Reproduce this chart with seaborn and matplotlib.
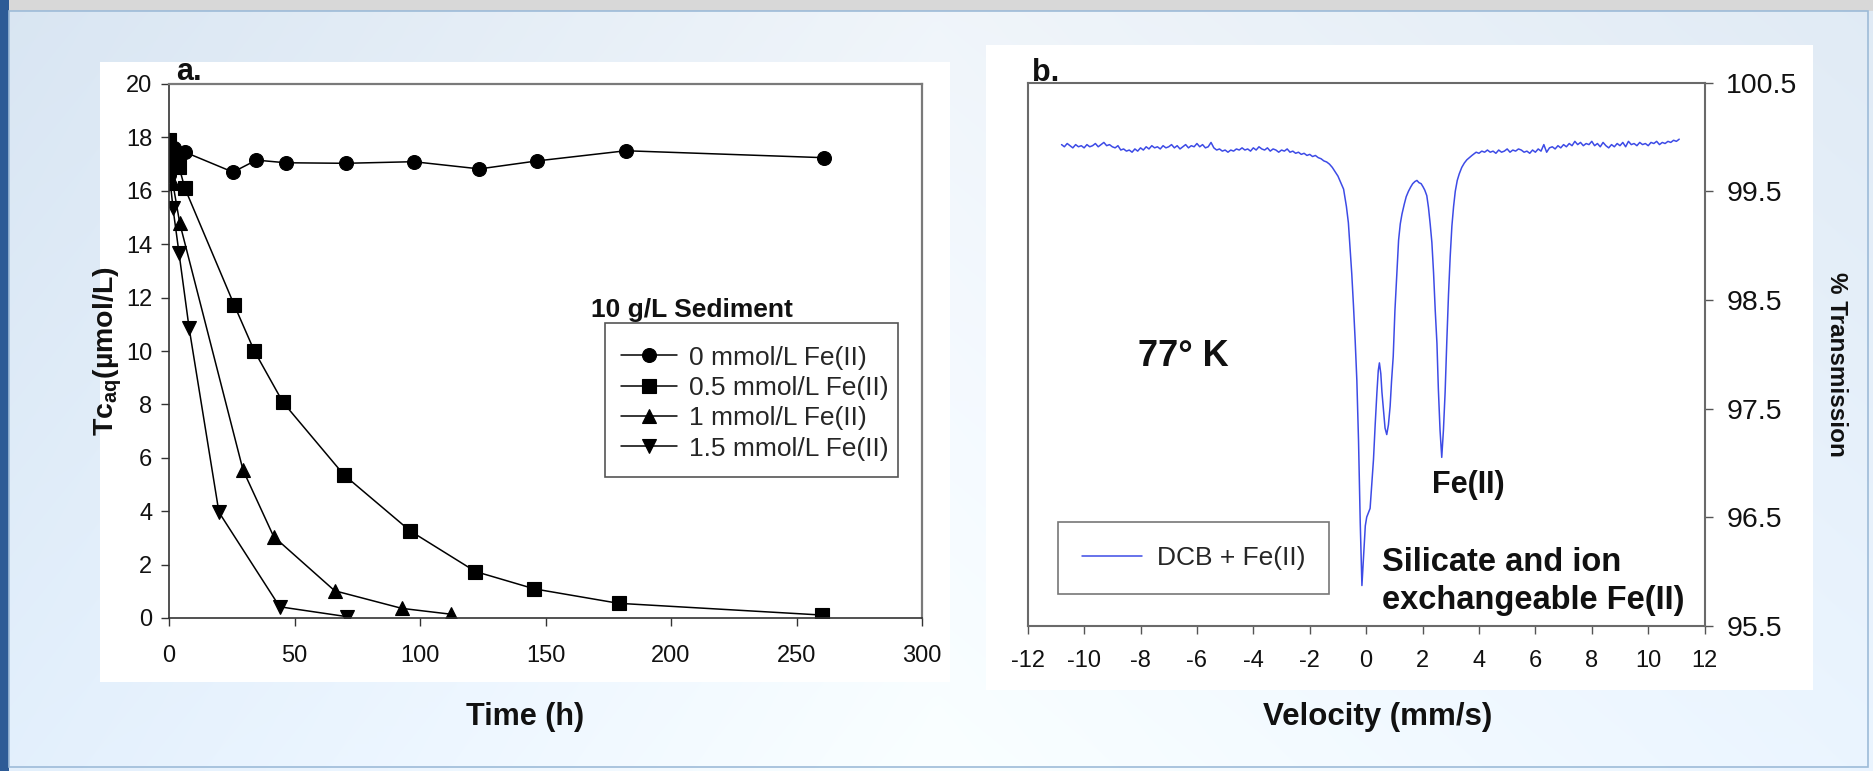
import numpy as np
import pandas as pd
import matplotlib
matplotlib.use("Agg")
import matplotlib.pyplot as plt
from matplotlib.patches import Rectangle
import seaborn as sns

# ---------------- data: panel a ----------------
series_labels = ["0 mmol/L Fe(II)", "0.5 mmol/L Fe(II)", "1 mmol/L Fe(II)", "1.5 mmol/L Fe(II)"]
time_0 = [0, 2, 4, 6.3, 25.5, 34.8, 46.5, 70.4, 97.5, 123.7, 146.7, 182, 261]
tc_0 = [16.6, 17.6, 17.2, 17.45, 16.7, 17.15, 17.05, 17.03, 17.09, 16.82, 17.12, 17.5, 17.24]
time_05 = [0, 2, 4, 6.3, 26, 34, 45.4, 69.7, 96.1, 122.1, 145.6, 179.1, 260.2]
tc_05 = [17.9, 17.3, 16.9, 16.1, 11.72, 10.0, 8.08, 5.36, 3.26, 1.74, 1.09, 0.55, 0.11]
time_1 = [0, 1.5, 4.3, 29.5, 41.7, 66, 92.8, 112.5]
tc_1 = [17.0, 16.3, 14.78, 5.54, 3.05, 1.02, 0.36, 0.14]
time_15 = [0, 1.6, 4.0, 8.0, 19.9, 44.1, 70.9]
tc_15 = [16.8, 15.34, 13.66, 10.87, 3.96, 0.42, 0.05]
time_ticks = [0, 50, 100, 150, 200, 250, 300]
tc_ticks = [0, 2, 4, 6, 8, 10, 12, 14, 16, 18, 20]

# ---------------- data: panel b (Mossbauer spectrum) ----------------
velocity = [
    -10.8, -10.7, -10.6, -10.5, -10.4, -10.3, -10.2, -10.1, -10.0, -9.9,
    -9.8, -9.7, -9.6, -9.5, -9.4, -9.3, -9.2, -9.1, -9.0, -8.9,
    -8.8, -8.7, -8.6, -8.5, -8.4, -8.3, -8.2, -8.1, -8.0, -7.9,
    -7.8, -7.7, -7.6, -7.5, -7.4, -7.3, -7.2, -7.1, -7.0, -6.9,
    -6.8, -6.7, -6.6, -6.5, -6.4, -6.3, -6.2, -6.1, -6.0, -5.9,
    -5.8, -5.7, -5.6, -5.5, -5.4, -5.3, -5.2, -5.1, -5.0, -4.9,
    -4.8, -4.7, -4.6, -4.5, -4.4, -4.3, -4.2, -4.1, -4.0, -3.9,
    -3.8, -3.7, -3.6, -3.5, -3.4, -3.3, -3.2, -3.1, -3.0, -2.9,
    -2.8, -2.7, -2.6, -2.5, -2.4, -2.3, -2.2, -2.1, -2.0, -1.9,
    -1.8, -1.7, -1.6, -1.5, -1.4, -1.3, -1.2, -1.1, -1.0, -0.9,
    -0.8, -0.7, -0.63, -0.57, -0.51, -0.45, -0.39, -0.33, -0.27, -0.21,
    -0.15, -0.09, -0.03, 0.02, 0.08, 0.14, 0.20, 0.26, 0.32, 0.38,
    0.43, 0.47, 0.52, 0.56, 0.61, 0.67, 0.73, 0.79, 0.85, 0.90,
    0.96, 1.02, 1.09, 1.15, 1.21, 1.27, 1.35, 1.42, 1.50, 1.58,
    1.65, 1.73, 1.80, 1.87, 1.95, 2.02, 2.08, 2.15, 2.21, 2.27,
    2.33, 2.39, 2.45, 2.51, 2.56, 2.62, 2.68, 2.74, 2.80, 2.86,
    2.92, 2.98, 3.04, 3.10, 3.16, 3.23, 3.30, 3.39, 3.48, 3.57,
    3.66, 3.75, 3.85, 3.9, 4.0, 4.1, 4.2, 4.3, 4.4, 4.5,
    4.6, 4.7, 4.8, 4.9, 5.0, 5.1, 5.2, 5.3, 5.4, 5.5,
    5.6, 5.7, 5.8, 5.9, 6.0, 6.1, 6.2, 6.3, 6.4, 6.5,
    6.6, 6.7, 6.8, 6.9, 7.0, 7.1, 7.2, 7.3, 7.4, 7.5,
    7.6, 7.7, 7.8, 7.9, 8.0, 8.1, 8.2, 8.3, 8.4, 8.5,
    8.6, 8.7, 8.8, 8.9, 9.0, 9.1, 9.2, 9.3, 9.4, 9.5,
    9.6, 9.7, 9.8, 9.9, 10.0, 10.1, 10.2, 10.3, 10.4, 10.5,
    10.6, 10.7, 10.8, 10.9, 11.0, 11.1,
]
transmission = [
    99.93, 99.91, 99.94, 99.92, 99.90, 99.93, 99.91, 99.92, 99.90, 99.93,
    99.91, 99.92, 99.94, 99.91, 99.93, 99.95, 99.92, 99.93, 99.91, 99.90,
    99.92, 99.88, 99.89, 99.87, 99.88, 99.86, 99.89, 99.87, 99.90, 99.88,
    99.91, 99.89, 99.92, 99.90, 99.91, 99.89, 99.92, 99.90, 99.91, 99.93,
    99.90, 99.92, 99.89, 99.91, 99.93, 99.90, 99.92, 99.91, 99.94, 99.91,
    99.93, 99.90, 99.91, 99.95, 99.90, 99.88, 99.89, 99.87, 99.88, 99.86,
    99.88, 99.87, 99.89, 99.88, 99.90, 99.88, 99.89, 99.87, 99.90, 99.88,
    99.91, 99.89, 99.88, 99.90, 99.87, 99.89, 99.88, 99.86, 99.88, 99.87,
    99.89, 99.86, 99.87, 99.85, 99.86, 99.84, 99.85, 99.83, 99.84, 99.82,
    99.83, 99.81, 99.80, 99.78, 99.77, 99.75, 99.72, 99.68, 99.64, 99.58,
    99.52, 99.36, 99.21, 98.98, 98.74, 98.45, 98.13, 97.76, 97.20, 96.45,
    95.87, 96.15, 96.42, 96.50, 96.54, 96.58, 96.80, 97.03, 97.35, 97.64,
    97.85, 97.92, 97.82, 97.65, 97.50, 97.32, 97.26, 97.35, 97.52, 97.75,
    97.98, 98.40, 98.75, 99.05, 99.20, 99.29, 99.38, 99.45, 99.50, 99.54,
    99.57, 99.59, 99.60, 99.58, 99.57, 99.54, 99.51, 99.46, 99.35, 99.20,
    99.03, 98.75, 98.40, 98.10, 97.68, 97.30, 97.05, 97.30, 97.65, 98.12,
    98.55, 98.90, 99.18, 99.36, 99.50, 99.60, 99.66, 99.72, 99.76, 99.79,
    99.81, 99.83, 99.85, 99.86, 99.85, 99.87, 99.86, 99.88, 99.86, 99.87,
    99.85, 99.88, 99.86, 99.87, 99.89, 99.86, 99.88, 99.87, 99.89, 99.88,
    99.86, 99.87, 99.85, 99.88, 99.86, 99.89, 99.87, 99.93, 99.86, 99.90,
    99.91, 99.89, 99.92, 99.90, 99.93, 99.91, 99.94, 99.92, 99.96, 99.93,
    99.95, 99.92, 99.94, 99.93, 99.96, 99.92, 99.94, 99.91, 99.95, 99.92,
    99.90, 99.93, 99.91, 99.94, 99.92, 99.95, 99.91, 99.96, 99.93, 99.94,
    99.92, 99.95, 99.93, 99.94, 99.92, 99.95, 99.94, 99.96, 99.93, 99.95,
    99.94, 99.96, 99.95, 99.97, 99.96, 99.98,
]
velocity_ticks = [-12, -10, -8, -6, -4, -2, 0, 2, 4, 6, 8, 10, 12]
trans_ticks = [95.5, 96.5, 97.5, 98.5, 99.5, 100.5]
spectrum_label = "DCB + Fe(II)"

# ---------------- style ----------------
sns.set_theme(style="white")
plt.rcParams["font.family"] = ["Liberation Sans", "DejaVu Sans"]
plt.rcParams["axes.unicode_minus"] = False
plt.rcParams["mathtext.fontset"] = "custom"
plt.rcParams["mathtext.rm"] = "Liberation Sans"
plt.rcParams["mathtext.bf"] = "Liberation Sans:bold"
plt.rcParams["mathtext.it"] = "Liberation Sans:italic"

W, H = 1873, 771
fig = plt.figure(figsize=(W / 100, H / 100), dpi=100)

# ---------------- slide background ----------------
bg = fig.add_axes([0, 0, 1, 1], zorder=-10)
bg.set_xlim(0, W)
bg.set_ylim(H, 0)
bg.axis("off")
gx = np.linspace(0, 1, 256)[None, :]
gy = np.linspace(0, 1, 128)[:, None]
c_left = np.array([0.85, 0.90, 0.95])
c_mid = np.array([0.94, 0.96, 0.98])
c_right = np.array([0.88, 0.92, 0.96])
wl = np.clip(1 - 2 * gx, 0, 1)[..., None]
wr = np.clip(2 * gx - 1, 0, 1)[..., None]
wm = 1 - wl - wr
img = wl * c_left + wm * c_mid + wr * c_right
img = img + (gy[..., None] * 0.04)
img = np.clip(np.broadcast_to(img, (128, 256, 3)), 0, 1)
bg.imshow(img, extent=[0, W, H, 0], aspect="auto", interpolation="bilinear")
bg.add_patch(Rectangle((0, 0), W, 11, color="#d8d8d8", lw=0))
bg.add_patch(Rectangle((0, 0), 9, H, color="#2d5b96", lw=0))
bg.add_patch(Rectangle((9, 11), W - 14, H - 15, fill=False, ec="#9dbbd8", lw=1.2))
bg.add_patch(Rectangle((100, 62), 850, 620, color="white", lw=0))
bg.add_patch(Rectangle((986, 45), 827, 645, color="white", lw=0))

# ---------------- panel a ----------------
ax1 = fig.add_axes([169 / W, 1 - 618 / H, (922 - 169) / W, (618 - 84) / H])
df = pd.concat([
    pd.DataFrame({"Time": time_0, "Tc": tc_0, "Series": series_labels[0]}),
    pd.DataFrame({"Time": time_05, "Tc": tc_05, "Series": series_labels[1]}),
    pd.DataFrame({"Time": time_1, "Tc": tc_1, "Series": series_labels[2]}),
    pd.DataFrame({"Time": time_15, "Tc": tc_15, "Series": series_labels[3]}),
], ignore_index=True)
markers = dict(zip(series_labels, ["o", "s", "^", "v"]))
palette = dict(zip(series_labels, ["black"] * 4))
sns.lineplot(data=df, x="Time", y="Tc", hue="Series", style="Series",
             markers=markers, dashes=False, palette=palette, sort=False,
             linewidth=1.1, markersize=10, markeredgecolor="black",
             markeredgewidth=0.8, ax=ax1, legend=True)
ax1.set_xlim(0, 300)
ax1.set_ylim(0, 20)
ax1.set_xticks(time_ticks)
ax1.set_yticks(tc_ticks)
ax1.set_xlabel("")
ax1.set_ylabel("")
ax1.tick_params(axis="both", direction="out", length=5.5, width=1.0,
                color="#333333", labelsize=17, labelcolor="#111111",
                bottom=True, left=True)
ax1.tick_params(axis="x", pad=14)
ax1.tick_params(axis="y", pad=6.5)
for s in ["left", "bottom"]:
    ax1.spines[s].set_color("#333333")
    ax1.spines[s].set_linewidth(1.2)
for s in ["top", "right"]:
    ax1.spines[s].set_color("#7a7a7a")
    ax1.spines[s].set_linewidth(1.6)
handles, labels = ax1.get_legend_handles_labels()
leg = ax1.legend(handles, labels, loc="upper left", bbox_to_anchor=(0.571, 0.552),
                 borderaxespad=0, frameon=False, fontsize=19,
                 handlelength=2.1, handletextpad=0.45, labelspacing=0.24,
                 borderpad=0.85)
ax1.add_patch(Rectangle((0.579, 0.264), 0.389, 0.288, transform=ax1.transAxes,
                        fill=False, ec="#555555", lw=1.2, zorder=5))
ax1.text(168, 11.55, "10 g/L Sediment", fontsize=19, fontweight="bold",
         ha="left", va="center", color="#111111")
ax1.text(0.01, 0.995, "a.", transform=ax1.transAxes, fontsize=22,
         fontweight="bold", ha="left", va="bottom", color="#111111")

# ---------------- panel b ----------------
ax2 = fig.add_axes([1027.7 / W, 1 - 625.7 / H, (1704.6 - 1027.7) / W, (625.7 - 82.7) / H])
sdf = pd.DataFrame({"Velocity": velocity, "Transmission": transmission,
                    "Sample": spectrum_label})
sns.lineplot(data=sdf, x="Velocity", y="Transmission", hue="Sample",
             palette={spectrum_label: "#3d4be6"}, sort=False, linewidth=1.1,
             ax=ax2, legend=True)
ax2.set_xlim(-12, 12)
ax2.set_ylim(95.5, 100.5)
ax2.set_xticks(velocity_ticks)
ax2.set_yticks(trans_ticks)
ax2.set_yticklabels([f"{t:.1f}" for t in trans_ticks])
ax2.yaxis.tick_right()
ax2.set_xlabel("")
ax2.set_ylabel("")
ax2.tick_params(axis="both", direction="out", length=5.5, width=1.0,
                color="#555555", labelcolor="#111111", bottom=True, right=True,
                left=False)
ax2.tick_params(axis="x", labelsize=17, pad=12)
ax2.tick_params(axis="y", labelsize=20.5, pad=10)
for s in ax2.spines.values():
    s.set_color("#6a6a6a")
    s.set_linewidth(1.5)
h2, l2 = ax2.get_legend_handles_labels()
leg2 = ax2.legend(h2, l2, loc="lower left", bbox_to_anchor=(0.0448, 0.0584),
                  borderaxespad=0, frameon=True, fancybox=False, fontsize=19,
                  handlelength=2.3, handletextpad=0.55, borderpad=0.9)
leg2.get_frame().set_edgecolor("#555555")
leg2.get_frame().set_linewidth(1.2)
ax2.text(-6.5, 97.98, "77° K", fontsize=26, fontweight="bold",
         ha="center", va="center", color="#111111")
ax2.text(2.33, 96.8, "Fe(II)", fontsize=22, fontweight="bold",
         ha="left", va="center", color="#111111")
ax2.text(0.57, 95.91, "Silicate and ion\nexchangeable Fe(II)", fontsize=23.5,
         fontweight="bold", ha="left", va="center", linespacing=1.28,
         color="#111111")
ax2.text(0.006, 0.99, "b.", transform=ax2.transAxes, fontsize=22,
         fontweight="bold", ha="left", va="bottom", color="#111111")

# ---------------- axis titles ----------------
fig.text(525 / W, 1 - 717 / H, "Time (h)", fontsize=22, fontweight="bold",
         ha="center", va="center", color="#111111")
fig.text(1378 / W, 1 - 717 / H, "Velocity (mm/s)", fontsize=22.5,
         fontweight="bold", ha="center", va="center", color="#111111")
fig.text(108 / W, 1 - 351 / H, r"Tc$_{\mathbf{aq}}$(µmol/L)", fontsize=20.5,
         fontweight="bold", rotation=90, ha="center", va="center",
         color="#111111")
fig.text(1837 / W, 1 - 364 / H, "% Transmission", fontsize=17.5,
         fontweight="bold", rotation=270, ha="center", va="center",
         color="#111111")

fig.savefig("out.png", dpi=100)
